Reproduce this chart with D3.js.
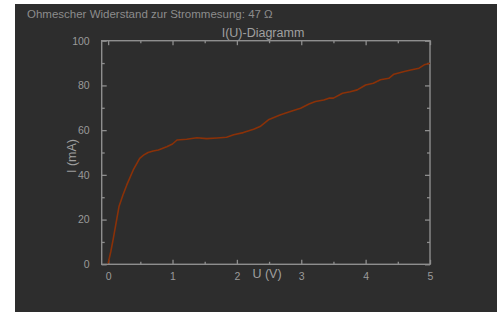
<!DOCTYPE html>
<html>
<head>
<meta charset="utf-8">
<script src="https://cdn.jsdelivr.net/npm/d3@7"></script>
<style>
  html, body { margin: 0; padding: 0; background: #ffffff; }
  svg { display: block; font-family: "Liberation Sans", Arial, sans-serif; }
  .axis path { display: none; }
  .axis line { stroke: #8e8e8e; stroke-width: 1.3; }
  .axis text { fill: #9a9a9a; font-size: 10.5px; }
  .frame { fill: none; stroke: #8e8e8e; stroke-width: 1.4; }
  .line { fill: none; stroke: #8a3108; stroke-width: 1.6; stroke-linejoin: round; }
</style>
</head>
<body>
<svg width="501" height="312"></svg>
<script>
// measurement: voltage U (V) and current I (mA)
const voltage = [0, 0.04, 0.08, 0.13, 0.17, 0.23, 0.29, 0.39, 0.49, 0.55, 0.62, 0.70, 0.78, 0.91, 1.0, 1.07, 1.22, 1.38,
  1.53, 1.69, 1.84, 1.95, 2.10, 2.26, 2.36, 2.49, 2.67, 2.83, 2.99, 3.12, 3.22, 3.35, 3.43, 3.50,
  3.64, 3.76, 3.87, 4.0, 4.12, 4.23, 4.36, 4.44, 4.60, 4.70, 4.83, 4.91, 5.0];
const current = [0.4, 5.5, 11.5, 19.5, 26.0, 31.0, 35.5, 42.2, 47.4, 48.8, 50.0, 50.7, 51.1, 52.6, 53.8, 55.6, 55.9, 56.6,
  56.2, 56.5, 56.8, 57.9, 58.9, 60.4, 61.6, 64.6, 66.8, 68.3, 69.8, 71.7, 72.8, 73.5, 74.3, 74.3,
  76.5, 77.2, 78.0, 80.2, 81.0, 82.5, 83.2, 85.0, 86.2, 86.9, 87.7, 89.2, 89.9];

const xMajor = [0, 1, 2, 3, 4, 5];
const xMinor = [0.5, 1.5, 2.5, 3.5, 4.5];
const yMajor = [0, 20, 40, 60, 80, 100];
const yMinor = [10, 30, 50, 70, 90];

const infoText = 'Ohmescher Widerstand zur Strommesung: 47 Ω';
const titleText = 'I(U)-Diagramm';
const xLabel = 'U (V)';
const yLabel = 'I (mA)';

const svg = d3.select('svg');

// dark panel
svg.append('rect')
  .attr('x', 15).attr('y', 4)
  .attr('width', 482).attr('height', 308)
  .attr('fill', '#2d2d2d');

const xScale = d3.scaleLinear().domain([-0.1, 5]).range([101.7, 430]);
const yScale = d3.scaleLinear().domain([0, 100]).range([264.3, 40.7]);

const x0 = xScale.range()[0], x1 = xScale.range()[1];
const y0 = yScale.range()[0], y1 = yScale.range()[1];

// box frame
svg.append('rect')
  .attr('class', 'frame')
  .attr('x', x0).attr('y', y1)
  .attr('width', x1 - x0).attr('height', y0 - y1);

// bottom axis (ticks pointing inward)
svg.append('g').attr('class', 'axis')
  .attr('transform', `translate(0,${y0})`)
  .call(d3.axisBottom(xScale).tickValues(xMajor).tickSize(-4.5).tickPadding(8).tickFormat(d3.format('d')));
svg.append('g').attr('class', 'axis')
  .attr('transform', `translate(0,${y0})`)
  .call(d3.axisBottom(xScale).tickValues(xMinor).tickSize(-2.5).tickFormat(''));

// top axis
svg.append('g').attr('class', 'axis')
  .attr('transform', `translate(0,${y1})`)
  .call(d3.axisTop(xScale).tickValues(xMajor).tickSize(-4.5).tickFormat(''));
svg.append('g').attr('class', 'axis')
  .attr('transform', `translate(0,${y1})`)
  .call(d3.axisTop(xScale).tickValues(xMinor).tickSize(-2.5).tickFormat(''));

// left axis
svg.append('g').attr('class', 'axis')
  .attr('transform', `translate(${x0},0)`)
  .call(d3.axisLeft(yScale).tickValues(yMajor).tickSize(-5).tickPadding(12).tickFormat(d3.format('d')));
svg.append('g').attr('class', 'axis')
  .attr('transform', `translate(${x0},0)`)
  .call(d3.axisLeft(yScale).tickValues(yMinor).tickSize(-3).tickFormat(''));

// right axis
svg.append('g').attr('class', 'axis')
  .attr('transform', `translate(${x1},0)`)
  .call(d3.axisRight(yScale).tickValues(yMajor).tickSize(-5).tickFormat(''));
svg.append('g').attr('class', 'axis')
  .attr('transform', `translate(${x1},0)`)
  .call(d3.axisRight(yScale).tickValues(yMinor).tickSize(-3).tickFormat(''));

// data line
const line = d3.line()
  .x((d, i) => xScale(voltage[i]))
  .y(d => yScale(d));

svg.append('path')
  .attr('class', 'line')
  .attr('d', line(current));

// texts
svg.append('text')
  .attr('x', 27).attr('y', 18)
  .attr('fill', '#8c8c8c')
  .attr('font-size', 11.5)
  .text(infoText);

svg.append('text')
  .attr('x', 263).attr('y', 37)
  .attr('text-anchor', 'middle')
  .attr('fill', '#a0a0a0')
  .attr('font-size', 12.5)
  .text(titleText);

svg.append('text')
  .attr('x', 267).attr('y', 278)
  .attr('text-anchor', 'middle')
  .attr('fill', '#a0a0a0')
  .attr('font-size', 12.5)
  .text(xLabel);

svg.append('text')
  .attr('transform', 'translate(76,156) rotate(-90)')
  .attr('text-anchor', 'middle')
  .attr('fill', '#a0a0a0')
  .attr('font-size', 12.5)
  .text(yLabel);
</script>
</body>
</html>
